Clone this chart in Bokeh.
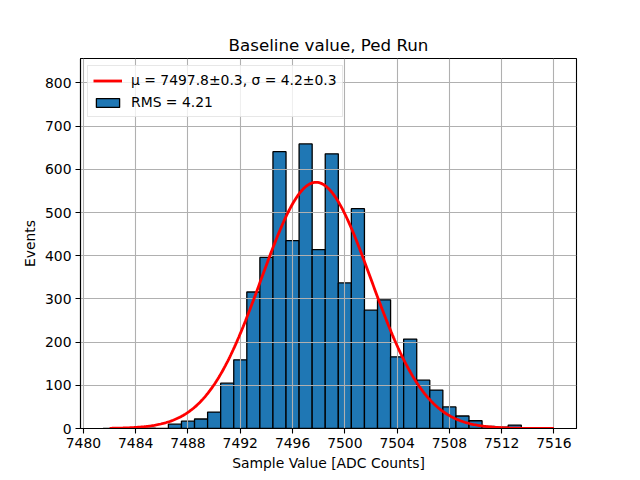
import numpy as np
from bokeh.plotting import figure
from bokeh.models import Range1d, FixedTicker, Legend, LegendItem
from bokeh.embed import file_html
from bokeh.resources import INLINE

# ---- data ----
bin_centers = [7482, 7483, 7484, 7485, 7486, 7487, 7488, 7489, 7490, 7491,
               7492, 7493, 7494, 7495, 7496, 7497, 7498, 7499, 7500, 7501,
               7502, 7503, 7504, 7505, 7506, 7507, 7508, 7509, 7510, 7511,
               7512, 7513, 7514, 7515]
counts = [0, 0, 0, 1, 0, 10, 17, 22, 38, 105,
          159, 316, 396, 641, 435, 659, 414, 636, 337, 509,
          274, 298, 166, 207, 112, 89, 50, 29, 18, 5,
          3, 8, 1, 1]
bin_width = 1.0

# Gaussian fit parameters (from legend) and peak height
fit_mu = 7497.8
fit_sigma = 4.2
fit_amp = 570.0
fit_xmin, fit_xmax = 7482, 7516

x_ticks = [7480, 7484, 7488, 7492, 7496, 7500, 7504, 7508, 7512, 7516]
y_ticks = [0, 100, 200, 300, 400, 500, 600, 700, 800]

title_text = "Baseline value, Ped Run"
xlabel = "Sample Value [ADC Counts]"
ylabel = "Events"
fit_label = "μ = 7497.8±0.3, σ = 4.2±0.3"
hist_label = "RMS = 4.21"

# ---- derived ----
centers = np.array(bin_centers, dtype=float)
lefts = centers - bin_width / 2
rights = centers + bin_width / 2
fx = np.linspace(fit_xmin, fit_xmax, 400)
fy = fit_amp * np.exp(-0.5 * ((fx - fit_mu) / fit_sigma) ** 2)

dmin = min(lefts.min(), fit_xmin)
dmax = max(rights.max(), fit_xmax)
span = dmax - dmin
x0, x1 = dmin - 0.05 * span, dmax + 0.05 * span
ytop = 1.3 * max(counts)

FONT = "DejaVu Sans"

p = figure(frame_width=496, frame_height=370,
           min_border_left=80, min_border_right=56,
           min_border_top=58, min_border_bottom=44,
           x_range=Range1d(x0, x1), y_range=Range1d(0, ytop),
           output_backend="svg", toolbar_location=None,
           title=title_text)

p.title.text_font = FONT
p.title.text_font_size = "16.7px"
p.title.text_font_style = "normal"
p.title.text_color = "black"
p.title.align = "center"
p.title.standoff = 7

bars = p.quad(left=lefts, right=rights, top=counts, bottom=0,
              fill_color="#1f77b4", line_color="black", line_width=1.3)
bars.level = "image"
curve = p.line(fx, fy, line_color="red", line_width=2.8)

p.xaxis.ticker = FixedTicker(ticks=x_ticks)
p.yaxis.ticker = FixedTicker(ticks=y_ticks)
p.xaxis.axis_label = xlabel
p.yaxis.axis_label = ylabel

for ax in (p.xaxis[0], p.yaxis[0]):
    ax.axis_label_text_font = FONT
    ax.axis_label_text_font_size = "13.9px"
    ax.axis_label_text_font_style = "normal"
    ax.major_label_text_font = FONT
    ax.major_label_text_font_size = "13.9px"
    ax.major_label_text_color = "black"
    ax.axis_label_text_color = "black"
    ax.axis_line_color = "black"
    ax.axis_line_width = 1.1
    ax.major_tick_line_color = "black"
    ax.major_tick_line_width = 1.1
    ax.major_tick_out = 5
    ax.major_tick_in = 0
    ax.minor_tick_line_color = None
    ax.major_label_standoff = 4
p.xaxis.axis_label_standoff = 4
p.yaxis.axis_label_standoff = 4

p.grid.grid_line_color = "#b0b0b0"
p.grid.grid_line_width = 1.1
p.outline_line_color = "black"
p.outline_line_width = 1.1
p.background_fill_color = "white"
p.border_fill_color = "white"

legend = Legend(items=[LegendItem(label=fit_label, renderers=[curve]),
                       LegendItem(label=hist_label, renderers=[bars])],
                location="top_left")
legend.margin = 7
legend.padding = 5
legend.spacing = 4
legend.label_height = 18
legend.glyph_height = 11
legend.glyph_width = 29
legend.label_standoff = 9
legend.label_text_font = FONT
legend.label_text_font_size = "13.9px"
legend.label_text_color = "black"
legend.border_line_color = "#d0d0d0"
legend.border_line_width = 1.1
legend.background_fill_alpha = 0.8
p.add_layout(legend, "center")

open("out.html", "w").write(file_html(p, INLINE))
